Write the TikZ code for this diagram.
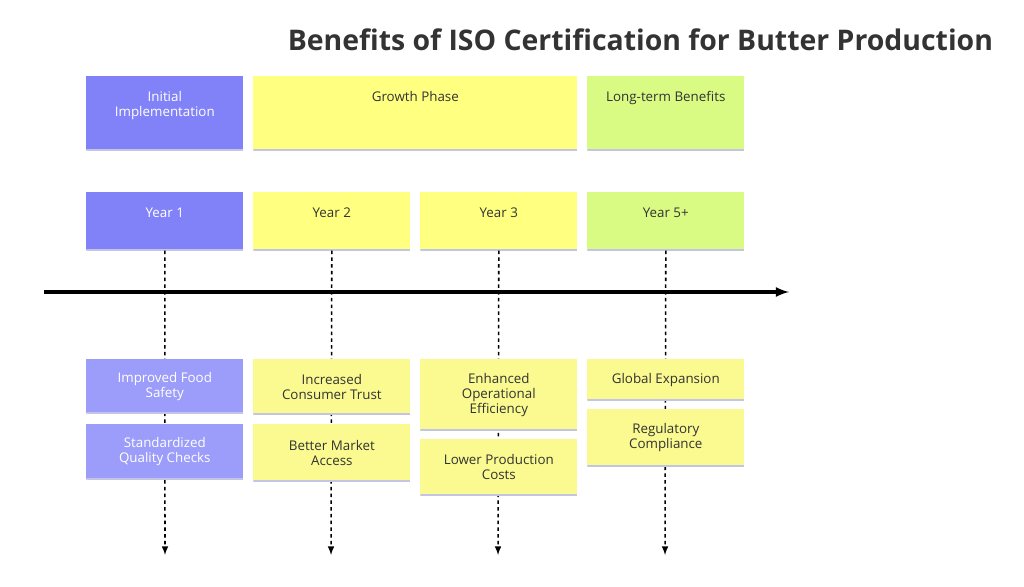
\documentclass[tikz,border=0pt]{standalone}
\usepackage{fontspec}
\setmainfont{Open Sans}
\definecolor{purphead}{HTML}{8282F8}
\definecolor{purpcell}{HTML}{9C9CFA}
\definecolor{yelhead}{HTML}{FFFF80}
\definecolor{yelcell}{HTML}{FAFA90}
\definecolor{greenhead}{HTML}{D9FB84}
\definecolor{edgeline}{HTML}{C4C4E6}
\definecolor{darktext}{HTML}{333333}
\tikzset{
  cellbox/.style={rectangle, inner sep=0pt, anchor=north west, minimum width=3.925cm,
    text=darktext, align=center, font=\fontsize{9.5}{10.8}\selectfont,
    path picture={\draw[line width=1.8pt, edgeline]
      (path picture bounding box.south west) -- (path picture bounding box.south east);}},
  toptext/.style={anchor=north, yshift=-0.38cm, inner sep=0pt, align=center,
    font=\fontsize{9.5}{10.8}\selectfont},
  guide/.style={->, line width=1.1pt, dash pattern=on 2.6pt off 2.2pt}
}
\begin{document}
\begin{tikzpicture}[x=0.025cm, y=-0.025cm, >=latex]
\useasboundingbox[fill=white] (0,0) rectangle (1024,586);
% title
\node[anchor=east, font=\fontsize{20.2}{23}\selectfont\bfseries, text=darktext] (title) at (998,40)
  {Benefits of ISO Certification for Butter Production};
% phases
\node[cellbox, fill=purphead, minimum height=1.85cm,
  label={[toptext, text=white]north:Initial\\Implementation}] (initial) at (86,76) {};
\node[cellbox, fill=yelhead, minimum height=1.85cm, minimum width=8.1cm,
  label={[toptext, text=darktext]north:Growth Phase}] (growth) at (253,76) {};
\node[cellbox, fill=greenhead, minimum height=1.85cm,
  label={[toptext, text=darktext]north:Long-term Benefits}] (longterm) at (587,76) {};
% years
\node[cellbox, fill=purphead, minimum height=1.45cm,
  label={[toptext, text=white]north:Year 1}] (year1) at (86,192) {};
\node[cellbox, fill=yelhead, minimum height=1.45cm,
  label={[toptext, text=darktext]north:Year 2}] (year2) at (253,192) {};
\node[cellbox, fill=yelhead, minimum height=1.45cm,
  label={[toptext, text=darktext]north:Year 3}] (year3) at (420,192) {};
\node[cellbox, fill=greenhead, minimum height=1.45cm,
  label={[toptext, text=darktext]north:Year 5+}] (year5) at (587,192) {};
% guides down from each year
\foreach \yr/\xx in {year1/165, year2/331, year3/498, year5/665} {
  \coordinate (\yr end) at (\xx,555);
  \draw[guide] (\yr.south) -- (\yr end);
}
% timeline
\coordinate (tstart) at (44,292);
\coordinate (tend) at (789,292);
\draw[->, line width=2.2pt] (tstart) -- (tend);
% benefits
\node[cellbox, fill=purpcell, text=white, minimum height=1.35cm] (food) at (86,359)
  {Improved Food\\Safety};
\node[cellbox, fill=purpcell, text=white, minimum height=1.375cm] (checks) at (86,424)
  {Standardized\\Quality Checks};
\node[cellbox, fill=yelcell, minimum height=1.375cm] (trust) at (253,359)
  {Increased\\Consumer Trust};
\node[cellbox, fill=yelcell, minimum height=1.425cm] (market) at (253,424)
  {Better Market\\Access};
\node[cellbox, fill=yelcell, minimum height=1.775cm] (efficiency) at (420,359)
  {Enhanced\\Operational\\Efficiency};
\node[cellbox, fill=yelcell, minimum height=1.4cm] (costs) at (420,439)
  {Lower Production\\Costs};
\node[cellbox, fill=yelcell, minimum height=1.025cm] (global) at (587,359)
  {Global Expansion};
\node[cellbox, fill=yelcell, minimum height=1.425cm] (compliance) at (587,409)
  {Regulatory\\Compliance};
\end{tikzpicture}
\end{document}
